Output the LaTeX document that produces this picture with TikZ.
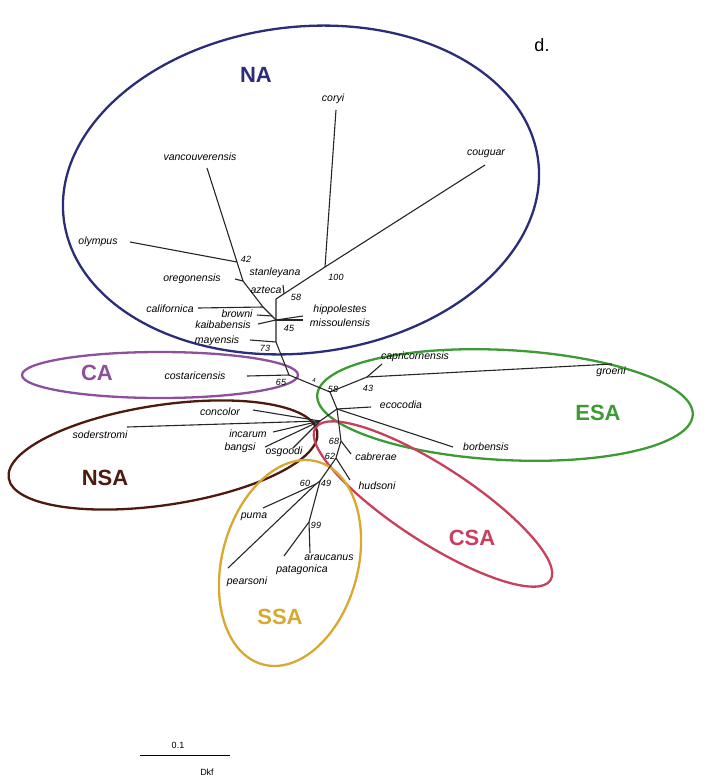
\documentclass[tikz,border=0pt]{standalone}
\usepackage{fontspec}
\setmainfont{Liberation Sans}
\definecolor{nacol}{HTML}{2B2D78}
\definecolor{cacol}{HTML}{8E4F9E}
\definecolor{nsacol}{HTML}{4E1A0E}
\definecolor{esacol}{HTML}{3E9A34}
\definecolor{csacol}{HTML}{C8405E}
\definecolor{ssacol}{HTML}{D8A830}
\begin{document}
\begin{tikzpicture}[x=1pt,y=-1pt]
        \tikzstyle{branch} = [line width=1.1pt, black!85]
        \tikzstyle{taxon} = [font=\fontsize{10.5}{12}\selectfont\itshape, inner sep=1pt]
        \tikzstyle{boot} = [font=\fontsize{9}{10}\selectfont\itshape, inner sep=0.5pt]
        \tikzstyle{group} = [line width=2.3pt]
        \tikzstyle{region} = [font=\fontsize{22}{24}\selectfont\bfseries]

        \useasboundingbox (0,0) rectangle (710,782);

        % group ellipses
        \draw[group, nacol, rotate around={7:(301,190)}] (301,190) ellipse [x radius=239pt, y radius=163pt];
        \draw[group, cacol] (160,375) ellipse [x radius=138pt, y radius=23pt];
        \draw[group, nsacol, rotate around={8.5:(163,455)}] (163,455) ellipse [x radius=156pt, y radius=50pt];
        \draw[group, esacol, rotate around={-3:(505,405)}] (505,405) ellipse [x radius=188pt, y radius=55pt];
        \draw[group, csacol, rotate around={-33:(433,504)}] (433,504) ellipse [x radius=140pt, y radius=38pt];
        \draw[group, ssacol, rotate around={75:(290,563)}] (290,563) ellipse [x radius=105pt, y radius=68pt];

        % internal nodes
        \coordinate (n42) at (237,262);
        \coordinate (jor) at (243,281);
        \coordinate (jcal) at (263,307);
        \coordinate (jbro) at (272,316);
        \coordinate (n100) at (325,267);
        \coordinate (jazt) at (284,294);
        \coordinate (n58a) at (276,299);
        \coordinate (n45) at (276,320);
        \coordinate (n73) at (276,342);
        \coordinate (n65) at (289,375);
        \coordinate (root) at (330,392);
        \coordinate (n43) at (367,377);
        \coordinate (nesa) at (337,409);
        \coordinate (nnsa) at (320,421);
        \coordinate (n68) at (341,441);
        \coordinate (n62) at (336,458);
        \coordinate (n49) at (320,481);
        \coordinate (n60) at (316,484);
        \coordinate (n99) at (309,522);

        % tips
        \coordinate (tvan) at (207,168);
        \coordinate (tolym) at (130,242);
        \coordinate (tore) at (235,279);
        \coordinate (tcal) at (198,308);
        \coordinate (tbro) at (257,315);
        \coordinate (tkai) at (258,324);
        \coordinate (tmay) at (250,340);
        \coordinate (tcor) at (336,110);
        \coordinate (tcou) at (485,165);
        \coordinate (tazt) at (283,285);
        \coordinate (thip) at (303,316);
        \coordinate (tmis) at (303,320);
        \coordinate (tcos) at (247,376);
        \coordinate (tcap) at (382,364);
        \coordinate (tgro) at (612,364);
        \coordinate (teco) at (371,407);
        \coordinate (tbor) at (453,447);
        \coordinate (tcon) at (253,410);
        \coordinate (tsod) at (127,427);
        \coordinate (tinc) at (273,432);
        \coordinate (tban) at (265,447);
        \coordinate (tosg) at (293,448);
        \coordinate (tcab) at (351,454);
        \coordinate (thud) at (350,480);
        \coordinate (tpum) at (263,508);
        \coordinate (tpea) at (228,568);
        \coordinate (tara) at (310,553);
        \coordinate (tpat) at (284,556);

        % branches
        \draw[branch] (tvan) -- (n42) -- (jor) -- (jcal) -- (n45);
        \draw[branch] (tolym) -- (n42);
        \draw[branch] (tore) -- (jor);
        \draw[branch] (tcal) -- (jcal);
        \draw[branch] (tbro) -- (jbro);
        \draw[branch] (tcor) -- (n100);
        \draw[branch] (tcou) -- (n100) -- (n58a);
        \draw[branch] (tazt) -- (jazt);
        \draw[branch] (n58a) -- (n45) -- (n73) -- (n65) -- (root);
        \draw[branch] (tkai) -- (n45);
        \draw[branch] (thip) -- (n45);
        \draw[branch] (tmis) -- (n45);
        \draw[branch] (tmay) -- (n73);
        \draw[branch] (tcos) -- (n65);
        \draw[branch] (root) -- (n43);
        \draw[branch] (tcap) -- (n43);
        \draw[branch] (tgro) -- (n43);
        \draw[branch] (root) -- (nesa) -- (nnsa);
        \draw[branch] (teco) -- (nesa);
        \draw[branch] (tbor) -- (nesa);
        \foreach \t in {tcon,tsod,tinc,tban,tosg}
            \draw[branch] (\t) -- (nnsa);
        \draw[branch] (nesa) -- (n68) -- (n62) -- (n49) -- (n60);
        \draw[branch] (tcab) -- (n68);
        \draw[branch] (thud) -- (n62);
        \draw[branch] (tpum) -- (n60);
        \draw[branch] (tpea) -- (n60);
        \draw[branch] (n49) -- (n99);
        \draw[branch] (tara) -- (n99);
        \draw[branch] (tpat) -- (n99);

        % taxa
        \node (lvan) [taxon] at (200,157) {vancouverensis};
        \node (lolym) [taxon] at (98,242) {olympus};
        \node (lore) [taxon] at (192,279) {oregonensis};
        \node (lsta) [taxon] at (275,273) {stanleyana};
        \node (lazt) [taxon] at (266,290) {azteca};
        \node (lcal) [taxon] at (170,309) {californica};
        \node (lbro) [taxon] at (237,314) {browni};
        \node (lkai) [taxon] at (223,325) {kaibabensis};
        \node (lmay) [taxon] at (217,341) {mayensis};
        \node (lhip) [taxon] at (340,310) {hippolestes};
        \node (lmis) [taxon] at (340,323) {missoulensis};
        \node (lcor) [taxon] at (333,99) {coryi};
        \node (lcou) [taxon] at (486,154) {couguar};
        \node (lcos) [taxon] at (195,376) {costaricensis};
        \node (lcon) [taxon] at (220,412) {concolor};
        \node (lsod) [taxon] at (100,435) {soderstromi};
        \node (linc) [taxon] at (248,434) {incarum};
        \node (lban) [taxon] at (240,448) {bangsi};
        \node (losg) [taxon] at (284,452) {osgoodi};
        \node (lcap) [taxon] at (415,357) {capricornensis};
        \node (lgro) [taxon] at (611,372) {groeni};
        \node (leco) [taxon] at (401,405) {ecocodia};
        \node (lbor) [taxon] at (486,447) {borbensis};
        \node (lcab) [taxon] at (376,457) {cabrerae};
        \node (lhud) [taxon] at (377,486) {hudsoni};
        \node (lpum) [taxon] at (254,517) {puma};
        \node (lara) [taxon] at (329,558) {araucanus};
        \node (lpat) [taxon] at (302,570) {patagonica};
        \node (lpea) [taxon] at (247,582) {pearsoni};

        % bootstrap values
        \node (b42) [boot] at (246,259) {42};
        \node (b100) [boot] at (336,277) {100};
        \node (b58a) [boot] at (296,297) {58};
        \node (b45) [boot] at (289,328) {45};
        \node (b73) [boot] at (265,348) {73};
        \node (b65) [boot] at (281,382) {65};
        \node (b4) [boot, font=\fontsize{6}{6}\selectfont\itshape] at (314,380) {4};
        \node (b58) [boot] at (333,389) {58};
        \node (b43) [boot] at (368,388) {43};
        \node (b68) [boot] at (334,441) {68};
        \node (b62) [boot] at (330,456) {62};
        \node (b60) [boot] at (305,483) {60};
        \node (b49) [boot] at (326,483) {49};
        \node (b99) [boot] at (316,525) {99};

        % regions
        \node (rna) [region, nacol] at (256,75) {NA};
        \node (rca) [region, cacol] at (97,373) {CA};
        \node (rnsa) [region, nsacol] at (105,478) {NSA};
        \node (resa) [region, esacol] at (598,413) {ESA};
        \node (rcsa) [region, csacol] at (472,538) {CSA};
        \node (rssa) [region, ssacol] at (280,617) {SSA};

        \node (panel) [font=\fontsize{18}{20}\selectfont] at (542,45) {d.};

        % scale bar
        \coordinate (sb0) at (140,755);
        \coordinate (sb1) at (230,755);
        \draw[line width=1pt] (sb0) -- (sb1);
        \node (sbv) [font=\fontsize{9}{10}\selectfont] at (178,745) {0.1};
        \node (sbu) [font=\fontsize{9}{10}\selectfont] at (207,772) {Dkf};
\end{tikzpicture}
\end{document}
